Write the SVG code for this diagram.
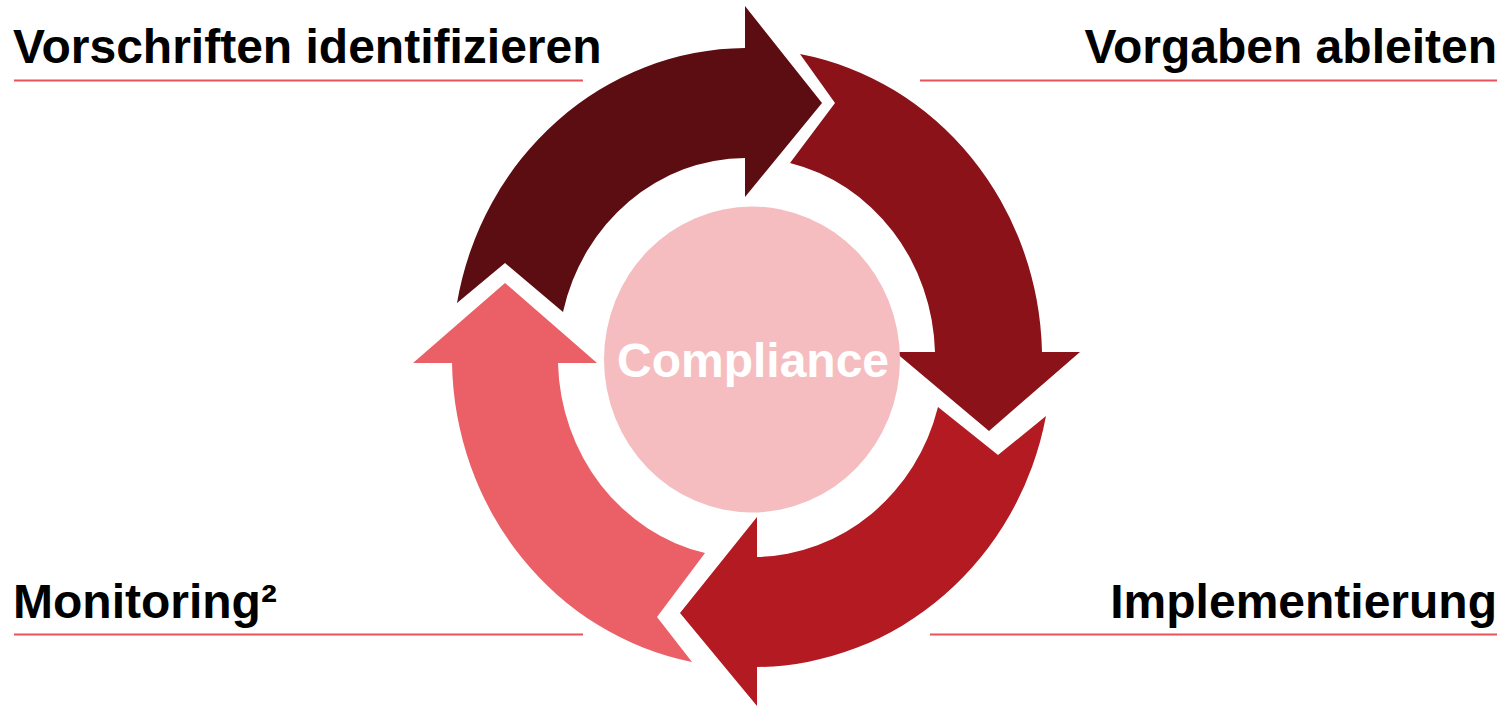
<svg xmlns="http://www.w3.org/2000/svg" width="1508" height="706" viewBox="0 0 1508 706">
  <style>
    .label { font-family: "Liberation Sans", Arial, sans-serif; font-weight: bold; font-size: 48px; fill: #000000; }
    .center-label { font-family: "Liberation Sans", Arial, sans-serif; font-weight: bold; font-size: 48px; fill: #FFFFFF; }
    .rule { stroke: #E8525A; stroke-width: 2.2; fill: none; }
  </style>
  <rect width="1508" height="706" fill="#FFFFFF"/>

  <g id="connectors">
    <path id="arrow-1" fill="#5C0D12" d="M457,303 A295,310 0 0 1 745,48 L745,6 L822,103 L745,197 L745,158 A188,200 0 0 0 563,312 L505,263 Z"/>
    <path id="arrow-2" fill="#8B1219" d="M800,54 A295,310 0 0 1 1042,352 L1080,352 L989,431 L895,352 L935,352 A188,200 0 0 0 790,163 L835,103 Z"/>
    <path id="arrow-3" fill="#B31A22" d="M1046,416 A298,311 0 0 1 757,667 L757,706 L680,613 L757,517 L757,557 A191,201 0 0 0 938,407 L998,455 Z"/>
    <path id="arrow-4" fill="#EB5F66" d="M692,662 A295,310 0 0 1 452,363 L413,363 L505,283 L597,363 L558,363 A188,200 0 0 0 705,553 L657,617 Z"/>
  </g>

  <g id="node-compliance">
    <ellipse cx="752" cy="359.5" rx="148" ry="153" fill="#F5BDC0"/>
    <text class="center-label" x="753" y="377" text-anchor="middle">Compliance</text>
  </g>

  <g id="node-vorschriften">
    <text class="label" x="13" y="63">Vorschriften identifizieren</text>
    <line class="rule" x1="14" y1="80.5" x2="583" y2="80.5"/>
  </g>

  <g id="node-vorgaben">
    <text class="label" x="1497" y="63" text-anchor="end">Vorgaben ableiten</text>
    <line class="rule" x1="920" y1="80.5" x2="1497" y2="80.5"/>
  </g>

  <g id="node-implementierung">
    <text class="label" x="1497" y="618" text-anchor="end">Implementierung</text>
    <line class="rule" x1="930" y1="634.5" x2="1497" y2="634.5"/>
  </g>

  <g id="node-monitoring">
    <text class="label" x="13" y="618">Monitoring²</text>
    <line class="rule" x1="14" y1="634.5" x2="583" y2="634.5"/>
  </g>
</svg>
